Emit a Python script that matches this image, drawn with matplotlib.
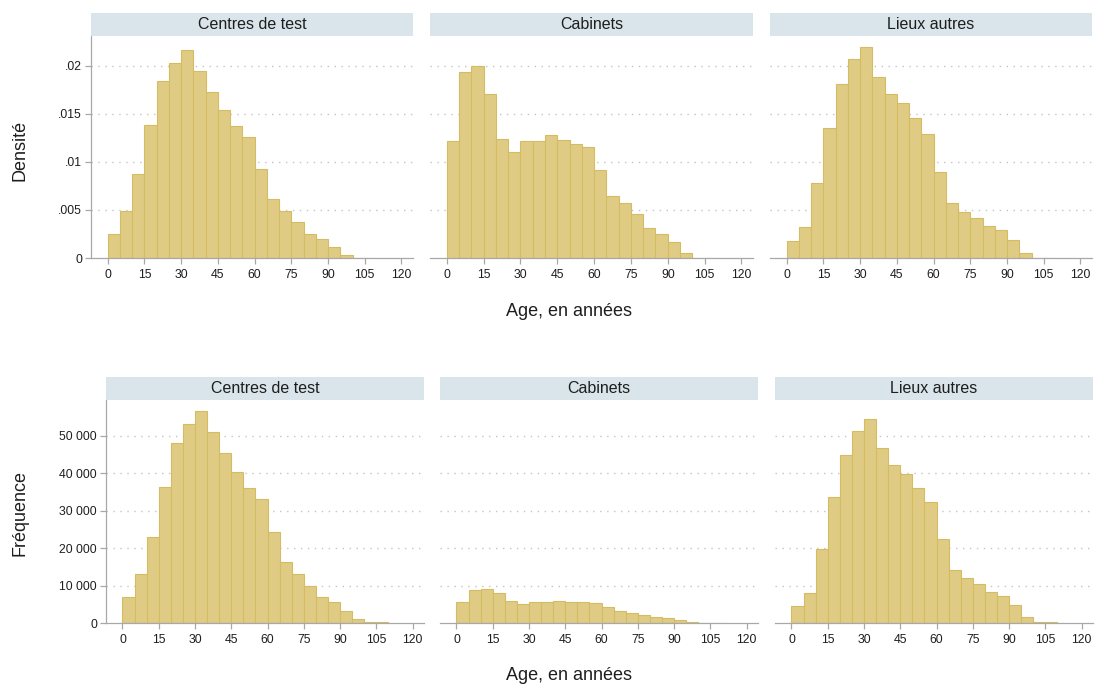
import matplotlib
matplotlib.use('Agg')
import matplotlib.pyplot as plt
from matplotlib.patches import Rectangle

plt.rcParams['font.family'] = ['Liberation Sans', 'DejaVu Sans']

# 5-year age bins, 0 to 110
bin_left = list(range(0, 110, 5))
bin_width = 5

panel_titles = ["Centres de test", "Cabinets", "Lieux autres"]

# density per bin
dens_centres = [0.00253, 0.00491, 0.00875, 0.01384, 0.01837, 0.02024, 0.02166, 0.01945,
                0.01727, 0.01540, 0.01377, 0.01263, 0.00927, 0.00612, 0.00491, 0.00370,
                0.00253, 0.00201, 0.00114, 0.00031, 0.00005, 0.00003]
dens_cabinets = [0.01221, 0.01931, 0.01993, 0.01709, 0.01235, 0.01100, 0.01221, 0.01221,
                 0.01277, 0.01225, 0.01187, 0.01159, 0.00917, 0.00650, 0.00574, 0.00460,
                 0.00315, 0.00253, 0.00170, 0.00055, 0.00003, 0.0]
dens_autres = [0.00173, 0.00318, 0.00785, 0.01356, 0.01806, 0.02069, 0.02194, 0.01886,
               0.01702, 0.01609, 0.01453, 0.01294, 0.00893, 0.00574, 0.00478, 0.00415,
               0.00329, 0.00291, 0.00190, 0.00055, 0.00004, 0.00005]

# counts per bin
freq_centres = [6950, 13010, 23080, 36450, 48130, 53120, 56770, 51160, 45370, 40370, 36100,
                33070, 24420, 16220, 13100, 9890, 6860, 5530, 3210, 1160, 270, 180]
freq_cabinets = [5575, 8940, 9200, 7965, 5840, 5045, 5575, 5575, 5930, 5660, 5575, 5310,
                 4160, 3100, 2740, 2120, 1500, 1240, 800, 350, 100, 0]
freq_autres = [4550, 8020, 19700, 33690, 45010, 51430, 54550, 46790, 42330, 39840, 36190,
               32260, 22370, 14170, 11940, 10430, 8380, 7310, 4900, 1520, 270, 180]

x_ticks = [0, 15, 30, 45, 60, 75, 90, 105, 120]
dens_ticks = [0, 0.005, 0.01, 0.015, 0.02]
dens_tick_labels = ["0", ".005", ".01", ".015", ".02"]
freq_ticks = [0, 10000, 20000, 30000, 40000, 50000]
freq_tick_labels = ["0", "10 000", "20 000", "30 000", "40 000", "50 000"]

BAR_FILL = '#e0cb84'
BAR_EDGE = '#d5bc63'
STRIP = '#d9e5eb'
AXIS_GRAY = '#a8a8a8'
GRID_GRAY = '#c4c4c4'
TEXT = '#1e1e1e'

fig = plt.figure(figsize=(10.96, 6.84), dpi=100)
W, H = 1096.0, 684.0


def px_axes(x0, y0, x1, y1):
    return fig.add_axes([x0 / W, 1 - y1 / H, (x1 - x0) / W, (y1 - y0) / H])


def draw_panel(ax, values, title, ylim, yticks, yticklabels, show_y):
    ax.bar(bin_left, values, width=bin_width, align='edge', color=BAR_FILL,
           edgecolor=BAR_EDGE, linewidth=0.8, zorder=2)
    ax.set_xlim(-6.8, 124.7)
    ax.set_ylim(*ylim)
    ax.set_xticks(x_ticks)
    ax.set_yticks(yticks)
    for t in yticks[1:]:
        ax.axhline(t, color=GRID_GRAY, linewidth=1.0, linestyle=(0, (1, 4)), zorder=1)
    for s in ['top', 'right']:
        ax.spines[s].set_visible(False)
    ax.spines['bottom'].set_color(AXIS_GRAY)
    ax.spines['bottom'].set_linewidth(0.9)
    ax.spines['bottom'].set_zorder(3)
    ax.tick_params(axis='x', length=4.5, width=0.9, color=AXIS_GRAY, pad=3.5,
                   labelsize=8.8, labelcolor=TEXT)
    if show_y:
        ax.spines['left'].set_color(AXIS_GRAY)
        ax.spines['left'].set_linewidth(0.9)
        ax.set_yticklabels(yticklabels)
        ax.tick_params(axis='y', length=4.5, width=0.9, color=AXIS_GRAY, pad=2,
                       labelsize=8.8, labelcolor=TEXT)
    else:
        ax.spines['left'].set_visible(False)
        ax.tick_params(axis='y', left=False, labelleft=False)
    # title strip above the plot region
    strip_h = 23.0 / (ax.get_position().height * H)
    ax.add_patch(Rectangle((0, 1), 1, strip_h, transform=ax.transAxes,
                           facecolor=STRIP, edgecolor='none', clip_on=False))
    ax.text(0.5, 1 + strip_h / 2, title, transform=ax.transAxes, ha='center',
            va='center', fontsize=11.5, color=TEXT)


top_boxes = [(91, 36, 413, 258), (430, 36, 753, 258), (770, 36, 1092, 258)]
bottom_boxes = [(106, 400, 424, 623), (440, 400, 758, 623), (775, 400, 1093, 623)]

dens_series = [dens_centres, dens_cabinets, dens_autres]
freq_series = [freq_centres, freq_cabinets, freq_autres]

for i, box in enumerate(top_boxes):
    ax = px_axes(*box)
    draw_panel(ax, dens_series[i], panel_titles[i], (0, 0.0231),
               dens_ticks, dens_tick_labels, i == 0)

for i, box in enumerate(bottom_boxes):
    ax = px_axes(*box)
    draw_panel(ax, freq_series[i], panel_titles[i], (0, 59600),
               freq_ticks, freq_tick_labels, i == 0)

fig.text(20 / W, 1 - 150 / H, "Densité", rotation=90, ha='center', va='center',
         fontsize=13, color=TEXT)
fig.text(20 / W, 1 - 513 / H, "Fréquence", rotation=90, ha='center', va='center',
         fontsize=13, color=TEXT)
fig.text(569 / W, 1 - 312 / H, "Age, en années", ha='center', va='center',
         fontsize=13, color=TEXT)
fig.text(569 / W, 1 - 676 / H, "Age, en années", ha='center', va='center',
         fontsize=13, color=TEXT)

fig.savefig('out.png', dpi=100, facecolor='white')
